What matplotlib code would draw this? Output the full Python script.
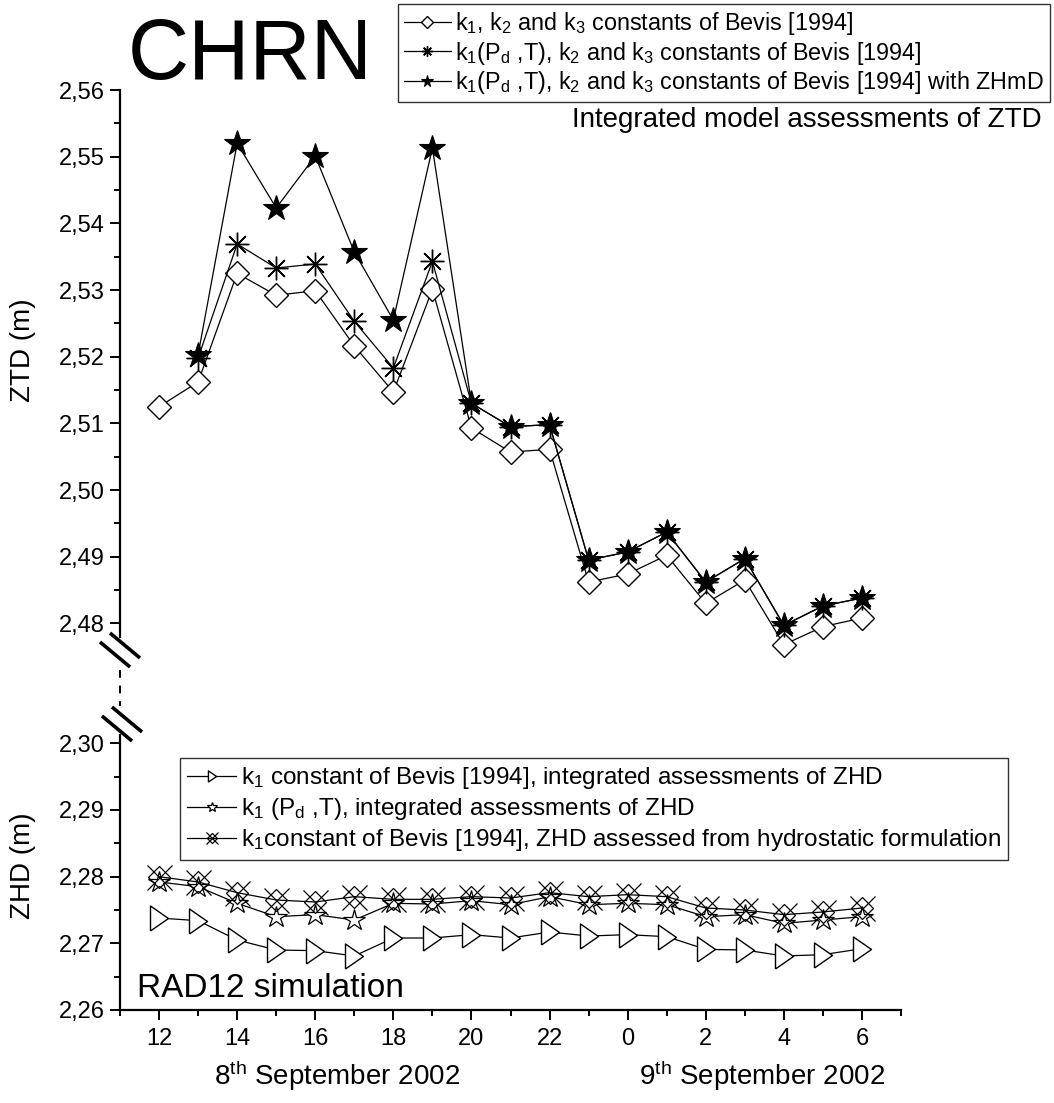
import matplotlib
matplotlib.use("Agg")
import matplotlib.pyplot as plt
import numpy as np
from matplotlib.ticker import MultipleLocator, FuncFormatter
from matplotlib.lines import Line2D
from matplotlib.legend_handler import HandlerTuple

plt.rcParams['font.family'] = ['Liberation Sans', 'DejaVu Sans']
plt.rcParams['mathtext.fontset'] = 'custom'
plt.rcParams['mathtext.rm'] = 'Liberation Sans'
plt.rcParams['mathtext.it'] = 'Liberation Sans:italic'
plt.rcParams['mathtext.bf'] = 'Liberation Sans:bold'

# ---------------- data ----------------
hours_all = [12, 13, 14, 15, 16, 17, 18, 19, 20, 21, 22, 23, 24, 25, 26, 27, 28, 29, 30]
hours_from13 = hours_all[1:]

ztd_bevis = [2.5125, 2.5162, 2.5325, 2.5292, 2.5299, 2.5216, 2.5147, 2.5301, 2.5093,
             2.5057, 2.5061, 2.4862, 2.4874, 2.4902, 2.4830, 2.4865, 2.4768, 2.4795, 2.4808]
ztd_k1pdt = [2.5198, 2.5369, 2.5333, 2.5339, 2.5253, 2.5183, 2.5343, 2.5130, 2.5095,
             2.5098, 2.4895, 2.4907, 2.4937, 2.4862, 2.4897, 2.4797, 2.4826, 2.4838]
ztd_zhmd = [2.5203, 2.5520, 2.5423, 2.5501, 2.5357, 2.5255, 2.5513, 2.5130, 2.5095,
            2.5098, 2.4895, 2.4907, 2.4937, 2.4862, 2.4897, 2.4797, 2.4826, 2.4838]

zhd_k1 = [2.2738, 2.2734, 2.2705, 2.2690, 2.2689, 2.2681, 2.2708, 2.2708, 2.2713, 2.2708,
          2.2717, 2.2711, 2.2713, 2.2710, 2.2691, 2.2690, 2.2681, 2.2683, 2.2692]
zhd_k1pdt = [2.2792, 2.2785, 2.2760, 2.2740, 2.2743, 2.2735, 2.2760, 2.2759, 2.2764, 2.2758,
             2.2770, 2.2758, 2.2760, 2.2758, 2.2740, 2.2743, 2.2730, 2.2735, 2.2740]
zhd_hydro = [2.2800, 2.2792, 2.2776, 2.2765, 2.2762, 2.2770, 2.2766, 2.2766, 2.2770, 2.2768,
             2.2776, 2.2770, 2.2773, 2.2770, 2.2753, 2.2750, 2.2743, 2.2747, 2.2753]

xtick_major = [12, 14, 16, 18, 20, 22, 24, 26, 28, 30]
xtick_labels = ['12', '14', '16', '18', '20', '22', '0', '2', '4', '6']

ztd_labels = [r'k$_1$, k$_2$ and k$_3$ constants of Bevis [1994]',
              r'k$_1$(P$_\mathrm{d}$ ,T), k$_2$ and k$_3$ constants of Bevis [1994]',
              r'k$_1$(P$_\mathrm{d}$ ,T), k$_2$ and k$_3$ constants of Bevis [1994] with ZHmD']
zhd_labels = [r'k$_1$ constant of Bevis [1994], integrated assessments of ZHD',
              r'k$_1$ (P$_\mathrm{d}$ ,T), integrated assessments of ZHD',
              r'k$_1$constant of Bevis [1994], ZHD assessed from hydrostatic formulation']

# ---------------- figure ----------------
W, H = 1054, 1103
fig = plt.figure(figsize=(W / 100, H / 100), dpi=100)

def fx(px):
    return px / W

def fy(py):
    return 1 - py / H

x_left, x_right = 120, 901
ax_top = fig.add_axes([fx(x_left), fy(650), fx(x_right) - fx(x_left), (650 - 90) / H])
ax_bot = fig.add_axes([fx(x_left), fy(1010), fx(x_right) - fx(x_left), (1010 - 735) / H])

lw = 0.9
# ZTD panel
l1, = ax_top.plot(hours_all, ztd_bevis, color='black', lw=lw, marker='D', ms=12.5,
                  mfc='white', mec='black', mew=1.0, clip_on=False, zorder=3)
l2, = ax_top.plot(hours_from13, ztd_k1pdt, color='black', lw=lw, marker=(8, 2, 0), ms=17,
                  mec='black', mew=1.0, clip_on=False, zorder=4)
l3, = ax_top.plot(hours_from13, ztd_zhmd, color='black', lw=lw, marker='*', ms=19,
                  mfc='black', mec='black', mew=0.8, clip_on=False, zorder=5)

# ZHD panel
tri = [(-0.72, -1), (0.72, 0), (-0.72, 1), (-0.72, -1)]
m1, = ax_bot.plot(hours_all, zhd_k1, color='black', lw=lw, marker=tri, ms=18,
                  mfc='white', mec='black', mew=1.0, clip_on=False, zorder=3)
m2, = ax_bot.plot(hours_all, zhd_k1pdt, color='black', lw=lw, marker='*', ms=16,
                  mfc='white', mec='black', mew=0.9, clip_on=False, zorder=4)
m3, = ax_bot.plot(hours_all, zhd_hydro, color='black', lw=lw, marker='D', ms=11.5,
                  mfc='none', mec='black', mew=0.9, clip_on=False, zorder=5)
m3x, = ax_bot.plot(hours_all, zhd_hydro, ls='none', marker='x', ms=18,
                   mec='black', mew=0.9, clip_on=False, zorder=5)

# axes formatting
comma = FuncFormatter(lambda v, p: ('%.2f' % v).replace('.', ','))
for ax in (ax_top, ax_bot):
    ax.set_xlim(11, 31)
    ax.spines['top'].set_visible(False)
    ax.spines['right'].set_visible(False)
    ax.spines['left'].set_linewidth(1.6)
    ax.spines['bottom'].set_linewidth(1.6)
    ax.yaxis.set_major_locator(MultipleLocator(0.01))
    ax.yaxis.set_minor_locator(MultipleLocator(0.005))
    ax.yaxis.set_major_formatter(comma)
    ax.tick_params(axis='y', which='major', direction='out', length=7, width=1.4,
                   labelsize=17, pad=4)
    ax.tick_params(axis='y', which='minor', direction='out', length=4.5, width=1.4)
    ax.patch.set_alpha(0)

ax_top.set_ylim(2.476, 2.56)
ax_top.spines['left'].set_bounds(2.478, 2.56)
ax_top.spines['bottom'].set_visible(False)
ax_top.tick_params(axis='x', which='both', bottom=False, labelbottom=False)

ax_bot.set_ylim(2.26, 2.30125)
ax_bot.set_xticks(xtick_major)
ax_bot.set_xticklabels(xtick_labels)
ax_bot.xaxis.set_minor_locator(MultipleLocator(1))
ax_bot.tick_params(axis='x', which='major', direction='out', length=7, width=1.4,
                   labelsize=17, pad=6)
ax_bot.tick_params(axis='x', which='minor', direction='out', length=4.5, width=1.4)

# y labels
fig.text(fx(23), fy(350), 'ZTD (m)', fontsize=20, rotation=90, ha='center', va='center')
fig.text(fx(23), fy(866), 'ZHD (m)', fontsize=20, rotation=90, ha='center', va='center')

# legends
leg1 = fig.legend(handles=[l1, l2, l3], labels=ztd_labels, loc='upper right',
                  bbox_to_anchor=(fx(1050), fy(4)), fontsize=16.8, markerscale=0.45,
                  handlelength=2.0, handletextpad=0.2, labelspacing=0.12,
                  borderpad=0.25, borderaxespad=0, frameon=True, fancybox=False,
                  edgecolor='black')
leg1.get_frame().set_linewidth(1.0)

leg2 = fig.legend(handles=[m1, m2, (m3, m3x)], labels=zhd_labels, loc='upper left',
                  bbox_to_anchor=(fx(180), fy(758)), fontsize=17.5, markerscale=0.45,
                  handlelength=2.0, handletextpad=0.2, labelspacing=0.2,
                  borderpad=0.3, borderaxespad=0, frameon=True, fancybox=False,
                  edgecolor='black', handler_map={tuple: HandlerTuple(ndivide=1, pad=0)})
leg2.get_frame().set_linewidth(1.0)

# texts
fig.text(fx(128), fy(79), 'CHRN', fontsize=61, va='baseline', ha='left')
fig.text(fx(1042), fy(120), 'Integrated model assessments of ZTD', fontsize=20,
         ha='right', va='center')
fig.text(fx(137), fy(997), 'RAD12 simulation', fontsize=24, va='baseline', ha='left')
fig.text(fx(337), fy(1076), r'8$^{\mathrm{th}}$ September 2002', fontsize=20,
         ha='center', va='center')
fig.text(fx(762), fy(1076), r'9$^{\mathrm{th}}$ September 2002', fontsize=20,
         ha='center', va='center')

# axis break marks
def seg(p0, p1, **kw):
    fig.add_artist(Line2D([fx(p0[0]), fx(p1[0])], [fy(p0[1]), fy(p1[1])],
                          transform=fig.transFigure, color='black', **kw))

seg((100, 642), (130, 667), lw=2.6, solid_capstyle='butt')
seg((110, 633), (140, 658), lw=2.6, solid_capstyle='butt')
seg((102, 716), (132, 741), lw=2.6, solid_capstyle='butt')
seg((112, 707), (142, 732), lw=2.6, solid_capstyle='butt')
seg((119.5, 670), (119.5, 706), lw=1.4, ls=(0, (4, 4)))

fig.savefig('out.png', dpi=100)
